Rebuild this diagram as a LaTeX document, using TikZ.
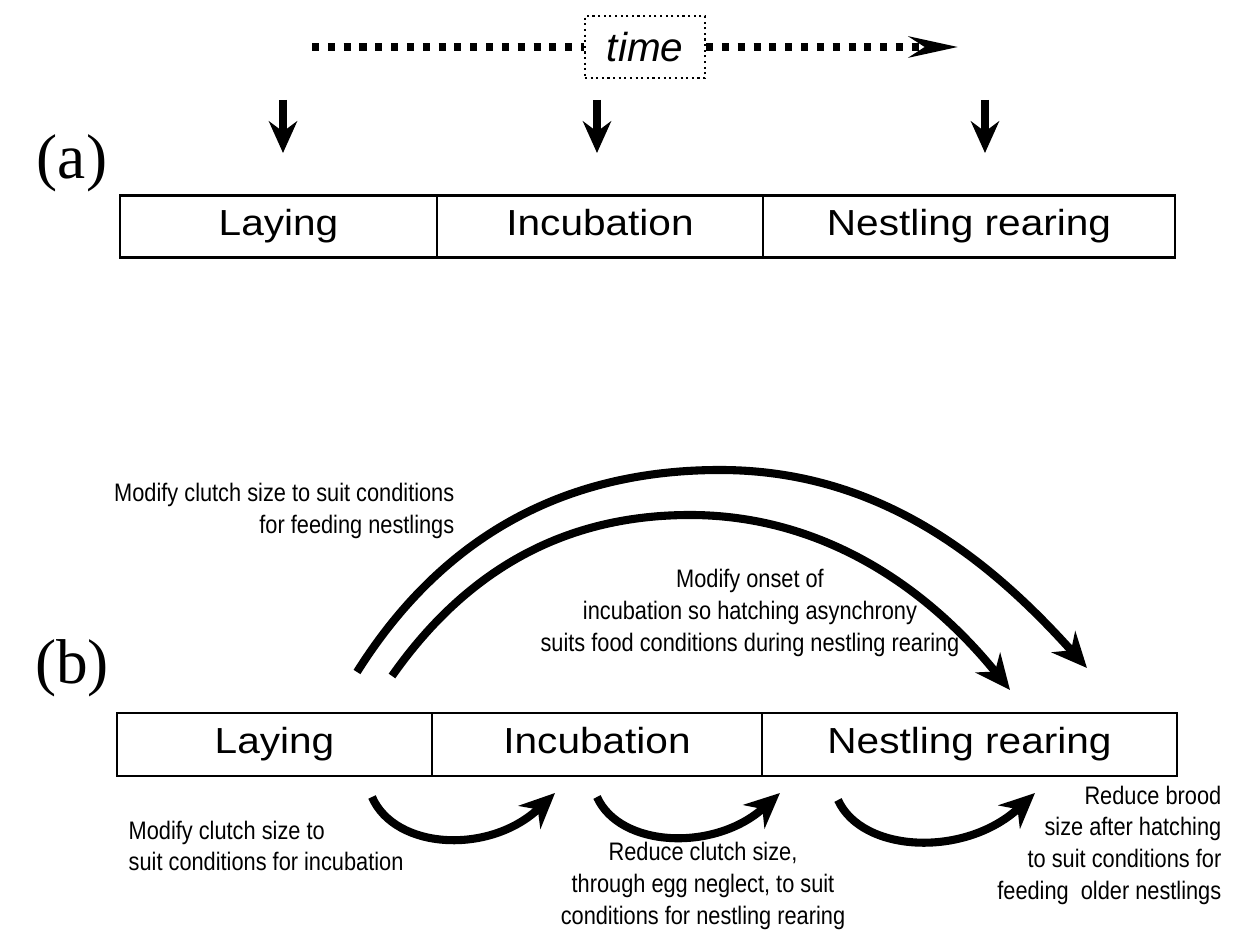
\documentclass[tikz,border=0pt]{standalone}
\usepackage{fontspec}
\setmainfont{Liberation Sans}
\newfontfamily\boxfont[FakeStretch=1.12]{Liberation Sans}
\newfontfamily\notefont[FakeStretch=0.86]{Liberation Sans}
\newfontfamily\panelfont{Liberation Serif}
\usetikzlibrary{arrows.meta}

\begin{document}
\begin{tikzpicture}[x=0.01cm, y=-0.01cm,
    cell/.style={draw, line width=0.6pt, inner sep=0pt, minimum height=0.62cm,
      text height=0.74em, text depth=0.22em,
      font=\boxfont\fontsize{10.3}{12}\selectfont},
    note/.style={inner sep=0pt, font=\notefont\fontsize{7.2}{9}\selectfont},
    panel/.style={font=\panelfont\fontsize{18}{20}\selectfont},
    bigarc/.style={line width=2.3pt, -{Stealth[length=10pt, width=9pt]}},
    down/.style={line width=2pt, -{Stealth[length=9pt, width=8pt]}},
    dots/.style={line width=2pt, dash pattern=on 2pt off 2.5pt}]
\useasboundingbox (0,0) rectangle (1235,940);

\node[panel] (pa) at (72,163) {(a)};
\node[panel] (pb) at (72,668) {(b)};

% time axis
\node[draw, densely dotted, line width=0.6pt, minimum width=1.2cm, minimum height=0.62cm,
  font=\itshape\fontsize{11.5}{13}\selectfont] (time) at (645,47) {time};
\coordinate (t0) at (312,47);
\coordinate (t1) at (958,47);
\draw[dots] (t0) -- (time.west);
\draw[dots, -{Stealth[length=14pt, width=6pt]}] (time.east) -- (t1);

% stages, panel (a)
\node[cell, minimum width=3.17cm] (la) at (278.5,226.5) {Laying};
\node[cell, minimum width=3.26cm] (ia) at (600,226.5) {Incubation};
\node[cell, minimum width=4.12cm] (na) at (969,226.5) {Nestling rearing};

\coordinate (d1) at (283,100);  \coordinate (e1) at (283,153);
\coordinate (d2) at (597,100);  \coordinate (e2) at (597,153);
\coordinate (d3) at (985,100);  \coordinate (e3) at (985,153);
\foreach \u\v in {d1/e1, d2/e2, d3/e3}
{	\draw[down] (\u) -- (\v);}

% stages, panel (b)
\node[cell, minimum width=3.15cm, minimum height=0.63cm] (lb) at (274.5,744.5) {Laying};
\node[cell, minimum width=3.30cm, minimum height=0.63cm] (ib) at (597,744.5) {Incubation};
\node[cell, minimum width=4.15cm, minimum height=0.63cm] (nb) at (969.5,744.5) {Nestling rearing};

% long arcs over the stages
\coordinate (os) at (357,672);  \coordinate (oe) at (1087,668);
\coordinate (is) at (392,676);  \coordinate (ie) at (1010,690);
\draw[bigarc] (os) .. controls (440,540) and (560,470) .. (720,470)
  .. controls (880,470) and (990,560) .. (oe);
\draw[bigarc] (is) .. controls (470,565) and (570,515) .. (690,515)
  .. controls (820,515) and (925,585) .. (ie);

% short arcs under the stages
\coordinate (s1) at (372,797);  \coordinate (f1) at (555,793);
\coordinate (s2) at (597,797);  \coordinate (f2) at (780,793);
\coordinate (s3) at (838,800);  \coordinate (f3) at (1035,793);
\draw[bigarc] (s1) .. controls (395,850) and (490,855) .. (f1);
\draw[bigarc] (s2) .. controls (620,848) and (715,852) .. (f2);
\draw[bigarc] (s3) .. controls (862,853) and (965,858) .. (f3);

\node[note, align=right, anchor=east] (n1) at (455,511)
  {Modify clutch size to suit conditions\\for feeding nestlings};
\node[note, align=center] (n2) at (750,613)
  {Modify onset of\\incubation so hatching asynchrony\\suits food conditions during nestling rearing};
\node[note, align=left, anchor=west] (n3) at (128,846)
  {Modify clutch size to\\suit conditions for incubation};
\node[note, align=center] (n4) at (703,886)
  {Reduce clutch size,\\through egg neglect, to suit\\conditions for nestling rearing};
\node[note, align=right, anchor=east] (n5) at (1222,845)
  {Reduce brood\\size after hatching\\to suit conditions for\\feeding\ \ older nestlings};
\end{tikzpicture}
\end{document}
